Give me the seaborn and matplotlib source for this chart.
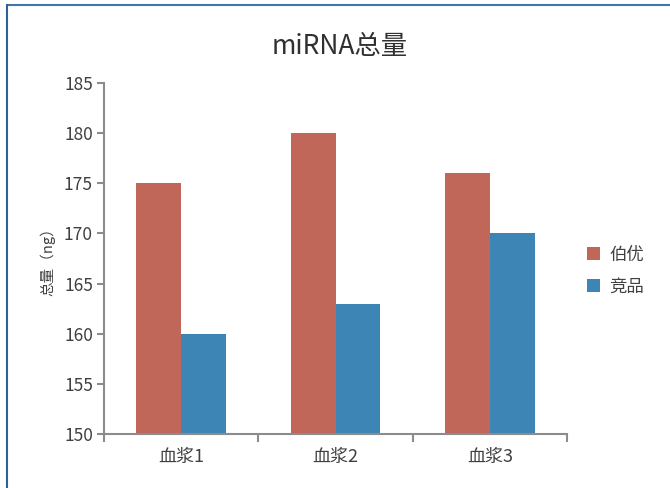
import pandas as pd
import seaborn as sns
from matplotlib import pyplot as plt
from matplotlib.lines import Line2D

samples = ["血浆1", "血浆2", "血浆3"]
boyou = [175, 180, 176]
rival = [160, 163, 170]
series_names = ["伯优", "竞品"]
y_ticks = [150, 155, 160, 165, 170, 175, 180, 185]

data = pd.DataFrame({
    "sample": samples * 2,
    "total": boyou + rival,
    "brand": [series_names[0]] * 3 + [series_names[1]] * 3,
})

sns.set_style("white")
plt.rcParams["font.family"] = ["Noto Sans CJK SC", "DejaVu Sans"]

fig = plt.figure(figsize=(6.7, 4.88), dpi=100)
ax = fig.add_axes([104 / 670, 54 / 488, 463 / 670, 351 / 488])

sns.barplot(data=data, x="sample", y="total", hue="brand",
            palette=["#c0675a", "#3d85b5"], width=0.58, saturation=1,
            linewidth=0, ax=ax, legend=True)

ax.set_ylim(150, 185)
ax.set_yticks(y_ticks)
ax.set_xlim(-0.5, 2.5)
ax.set_xticks([-0.5, 0.5, 1.5, 2.5], minor=True)
ax.tick_params(axis="x", which="major", bottom=False, length=0, pad=10, labelsize=13, labelcolor="#404040")
ax.tick_params(axis="x", which="minor", bottom=True, length=6, width=1.5, color="#8c8c8c", direction="out")
ax.tick_params(axis="y", left=True, length=5, width=1.5, color="#8c8c8c", direction="out",
               labelsize=12.5, labelcolor="#404040", pad=3)
for side in ["top", "right"]:
    ax.spines[side].set_visible(False)
for side in ["left", "bottom"]:
    ax.spines[side].set_color("#8c8c8c")
    ax.spines[side].set_linewidth(1.5)

ax.set_xlabel("")
ax.set_ylabel("总量（ng）", fontsize=10.5, color="#404040", labelpad=6)

leg = ax.legend(loc="center left", bbox_to_anchor=(1.01, 0.465), frameon=False,
                fontsize=12.5, handlelength=0.75, handleheight=0.75, handletextpad=0.5,
                labelspacing=0.8)
for t in leg.get_texts():
    t.set_color("#404040")

fig.text(0.507, 0.905, "miRNA总量", ha="center", va="center", fontsize=19, color="#303030")

# frame lines of the screenshot
fig.add_artist(Line2D([7 / 670, 1], [1 - 5 / 488, 1 - 5 / 488], transform=fig.transFigure,
                      color="#3f74ad", lw=1.5))
fig.add_artist(Line2D([7 / 670, 7 / 670], [0, 1 - 5 / 488], transform=fig.transFigure,
                      color="#2f5f97", lw=1.5))

fig.savefig("out.png", dpi=100)
